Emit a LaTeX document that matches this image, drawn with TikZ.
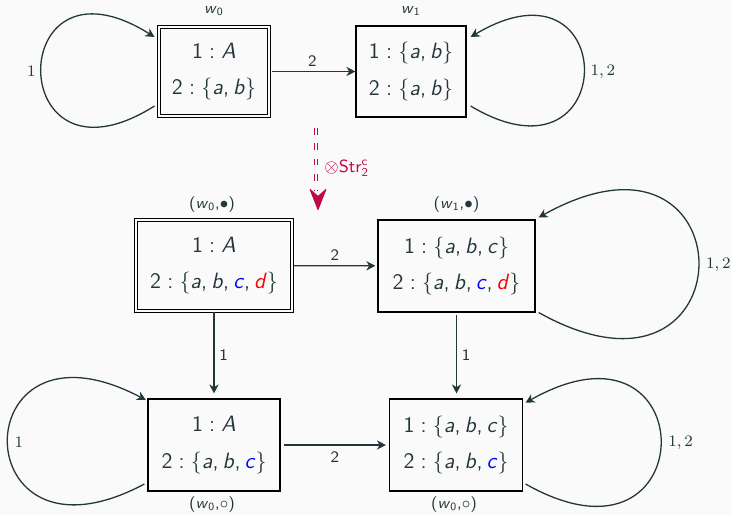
\documentclass[tikz,border=0pt]{standalone}
\usetikzlibrary{arrows.meta,calc}
\definecolor{fg}{HTML}{23373B}
\definecolor{bg}{HTML}{FAFAFA}
\definecolor{crim}{RGB}{190,10,70}
\definecolor{cblue}{RGB}{0,0,255}
\definecolor{cred}{RGB}{255,0,0}
\newcommand\Iv[1]{\textit{#1}}
\newcommand\cln{\hspace{0.28em}:\hspace{0.28em}}
\newcommand\lb{$\{$}
\newcommand\rb{$\}$}
\newcommand\cm{,\hspace{0.18em}}
\begin{document}
\begin{tikzpicture}[x=0.5pt,y=-0.5pt,
  every node/.style={text=fg},
  world/.style={draw=black, line width=0.6pt, rectangle, inner sep=0pt, align=center,
    font=\sffamily\fontsize{11.1}{18.3}\selectfont},
  dworld/.style={world, double=bg, double distance=1.1pt, line width=0.5pt},
  wl/.style={font=\sffamily\fontsize{7.9}{9}\selectfont, inner sep=0pt},
  edgeline/.style={draw=fg, line width=0.65pt, -{Stealth[length=4.5pt,width=4.6pt,inset=1.4pt]}},
  el/.style={font=\sffamily\fontsize{8}{9}\selectfont, inner sep=2.4pt},
  ll/.style={font=\fontsize{7.9}{9}\selectfont, inner sep=3pt}
]
\path[use as bounding box, fill=bg] (0,0) rectangle (732,515);

% worlds
\node[dworld, minimum width=55pt, minimum height=44.5pt] (A) at (214,71.5)
  {1\cln\Iv{A}\\2\cln\lb\Iv{a}\cm\Iv{b}\rb};
\node[world, minimum width=55pt, minimum height=45.5pt] (B) at (411,71.5)
  {1\cln\lb\Iv{a}\cm\Iv{b}\rb\\2\cln\lb\Iv{a}\cm\Iv{b}\rb};
\node[dworld, minimum width=78pt, minimum height=45.5pt] (C) at (214,265.5)
  {1\cln\Iv{A}\\2\cln\lb\Iv{a}\cm\Iv{b}\cm\textcolor{cblue}{\Iv{c}}\cm\textcolor{cred}{\Iv{d}}\rb};
\node[world, minimum width=78.5pt, minimum height=46pt] (D) at (456.5,266)
  {1\cln\lb\Iv{a}\cm\Iv{b}\cm\Iv{c}\rb\\2\cln\lb\Iv{a}\cm\Iv{b}\cm\textcolor{cblue}{\Iv{c}}\cm\textcolor{cred}{\Iv{d}}\rb};
\node[world, minimum width=66pt, minimum height=46pt] (E) at (214,445)
  {1\cln\Iv{A}\\2\cln\lb\Iv{a}\cm\Iv{b}\cm\textcolor{cblue}{\Iv{c}}\rb};
\node[world, minimum width=66.5pt, minimum height=46pt] (F) at (456,445)
  {1\cln\lb\Iv{a}\cm\Iv{b}\cm\Iv{c}\rb\\2\cln\lb\Iv{a}\cm\Iv{b}\cm\textcolor{cblue}{\Iv{c}}\rb};

% world labels
\node[wl] (lA) at ($(A.north)+(0,-15.5)$) {\Iv{w}\textsubscript{0}};
\node[wl] (lB) at ($(B.north)+(0,-14.5)$) {\Iv{w}\textsubscript{1}};
\node[wl] (lC) at ($(C.north)+(-2,-15)$) {(\Iv{w}\textsubscript{0},$\bullet$)};
\node[wl] (lD) at ($(D.north)+(0,-15)$) {(\Iv{w}\textsubscript{1},$\bullet$)};
\node[wl] (lE) at ($(E.south)+(-2,13)$) {(\Iv{w}\textsubscript{0},$\circ$)};
\node[wl] (lF) at ($(F.south)+(-2,13)$) {(\Iv{w}\textsubscript{0},$\circ$)};

% straight edges
\draw[edgeline, shorten <=1pt] (A) -- (B) node[el, midway, above] (eAB) {2};
\draw[edgeline, shorten <=0.5pt, shorten >=1pt] (C) -- (D) node[el, midway, above] (eCD) {2};
\draw[edgeline, shorten <=1.5pt, shorten >=1.5pt] (E) -- (F) node[el, midway, below, inner sep=3pt] (eEF) {2};
\draw[edgeline, shorten >=2.5pt] (C.south) -- (E.north) node[el, midway, right] (eCE) {1};
\draw[edgeline, shorten <=1pt, shorten >=2.5pt] (D.south) -- (D.south |- F.north) node[el, midway, right] (eDF) {1};

% loops
\draw[edgeline] ($(A.west)+(-4,34.5)$) .. controls +(-151,95) and +(-151,-95) .. ($(A.west)+(-4,-34.5)$)
  node[ll, pos=0.5, left, inner sep=2.5pt] (loopA) {$1$};
\draw[edgeline] ($(B.east)+(4,34.5)$) .. controls +(151,90) and +(151,-90) .. ($(B.east)+(4,-34.5)$)
  node[ll, pos=0.5, right] (loopB) {$1,2$};
\draw[edgeline] ($(D.east)+(3,46.5)$) .. controls +(213,119) and +(213,-119) .. ($(D.east)+(3,-48.5)$)
  node[ll, pos=0.5, right, inner sep=3.5pt] (loopD) {$1,2$};
\draw[edgeline] ($(E.west)+(-3,39)$) .. controls +(-182,97) and +(-184,-97) .. ($(E.west)+(-1.5,-45)$)
  node[ll, pos=0.5, right, inner sep=3pt] (loopE) {$1$};
\draw[edgeline] ($(F.east)+(2.5,39)$) .. controls +(180,102) and +(180,-102) .. ($(F.east)+(2.5,-42.3)$)
  node[ll, pos=0.5, right, inner sep=3.5pt] (loopF) {$1,2$};

% product arrow
\coordinate (rs) at (316,128);
\coordinate (re) at (316,190);
\coordinate (ra) at (318,199);
\coordinate (rb) at (318,210);
\draw[crim, line width=0.5pt, double=bg, double distance=0.7pt, dash pattern=on 3.3pt off 4.4pt] (rs) -- (re);
\draw[crim, line width=0.5pt, -{Stealth[length=11.5pt,width=9pt,inset=4pt,round]}] (ra) -- (rb);
\node[font=\sffamily\fontsize{8.8}{10}\selectfont, text=crim, anchor=west, inner sep=0pt] (sl) at (324,168)
  {$\otimes$Str$_{\mathsf{2}}^{\mathsf{c}}$};
\end{tikzpicture}
\end{document}
